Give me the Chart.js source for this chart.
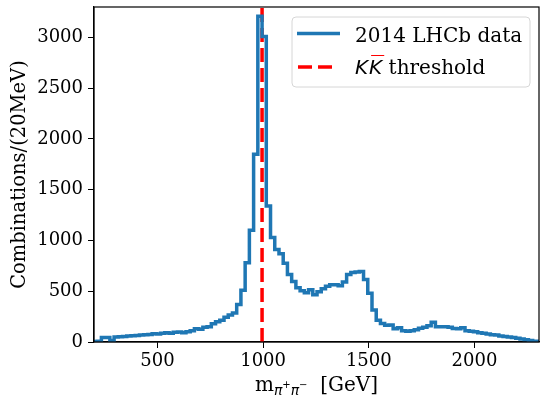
<!DOCTYPE html>
<html>
<head>
<meta charset="utf-8">
<script src="https://cdn.jsdelivr.net/npm/chart.js@4"></script>
<style>
  html, body { margin: 0; padding: 0; background: #fff; }
  canvas { display: block; }
</style>
</head>
<body>
<canvas id="chart" width="540" height="395"></canvas>
<script>
// histogram: 20 MeV bins, first bin starts at 195
var binWidth = 20;
var firstEdge = 195;
var counts = [
  5, 5, 8, 45, 45, 15, 50, 52, 55, 58,
  62, 65, 68, 72, 75, 82, 80, 85, 90, 85,
  95, 98, 92, 100, 110, 130, 125, 145, 150, 180,
  200, 215, 245, 265, 285, 370, 510, 780, 1100, 1850,
  3210, 3010, 1340, 1030, 910, 870, 775, 665, 595, 535,
  505, 485, 515, 465, 495, 525, 550, 565, 565, 555,
  590, 665, 685, 690, 695, 615, 480, 315, 215, 182,
  165, 168, 130, 140, 110, 105, 110, 120, 135, 145,
  160, 195, 150, 150, 150, 145, 132, 130, 140, 112,
  105, 100, 92, 85, 80, 72, 68, 60, 55, 50,
  45, 38, 30, 22, 15, 8
];
var threshold = 995;          // KK threshold
var xTicks = [500, 1000, 1500, 2000];
var yTicks = [0, 500, 1000, 1500, 2000, 2500, 3000];

var steps = counts.map(function (c, i) { return { x: firstEdge + i * binWidth, y: c }; });
steps.push({ x: firstEdge + counts.length * binWidth, y: counts[counts.length - 1] });

var serif = "'DejaVu Serif', serif";
var sans = "'DejaVu Sans', sans-serif";

var decorations = {
  id: "decorations",
  afterDraw: function (chart) {
    var ctx = chart.ctx, a = chart.chartArea;
    ctx.save();
    // frame
    ctx.strokeStyle = "#000";
    ctx.lineWidth = 1.2;
    ctx.strokeRect(a.left, a.top, a.right - a.left, a.bottom - a.top);

    // legend
    var lx = 292, ly = 17, lw = 238, lh = 70, r = 4;
    ctx.beginPath();
    ctx.moveTo(lx + r, ly);
    ctx.arcTo(lx + lw, ly, lx + lw, ly + lh, r);
    ctx.arcTo(lx + lw, ly + lh, lx, ly + lh, r);
    ctx.arcTo(lx, ly + lh, lx, ly, r);
    ctx.arcTo(lx, ly, lx + lw, ly, r);
    ctx.closePath();
    ctx.fillStyle = "rgba(255,255,255,0.8)";
    ctx.fill();
    ctx.strokeStyle = "#d6d6d6";
    ctx.lineWidth = 1;
    ctx.stroke();

    ctx.lineWidth = 3.5;
    ctx.strokeStyle = "#1f77b4";
    ctx.beginPath(); ctx.moveTo(297, 33.5); ctx.lineTo(340, 33.5); ctx.stroke();
    ctx.strokeStyle = "red";
    ctx.setLineDash([14, 6]);
    ctx.beginPath(); ctx.moveTo(298, 67); ctx.lineTo(332, 67); ctx.stroke();
    ctx.setLineDash([]);

    ctx.fillStyle = "#000";
    ctx.textBaseline = "alphabetic";
    ctx.textAlign = "left";
    ctx.font = "20px " + serif;
    ctx.fillText("2014 LHCb data", 355, 41.5);
    ctx.font = "italic 20px " + sans;
    ctx.fillText("K", 355, 74);
    var kw = ctx.measureText("K").width;
    ctx.fillText("K", 355 + kw + 1, 74);
    ctx.lineWidth = 1;
    ctx.beginPath(); ctx.moveTo(355 + kw + 3, 55.5); ctx.lineTo(355 + 2 * kw + 3, 55.5); ctx.stroke();
    ctx.font = "20px " + serif;
    ctx.fillText(" threshold", 355 + 2 * kw + 1, 74);

    // x axis title: m_{pi+ pi-} [GeV]
    var parts = [
      { t: "m", f: "20px " + serif, dy: 0 },
      { t: "\u03c0", f: "italic 14px " + sans, dy: 4 },
      { t: "+", f: "10px " + sans, dy: -3 },
      { t: "\u03c0", f: "italic 14px " + sans, dy: 4 },
      { t: "\u2212", f: "10px " + sans, dy: -3 },
      { t: "  [GeV]", f: "20px " + serif, dy: 0 }
    ];
    var total = 0;
    parts.forEach(function (p) { ctx.font = p.f; p.w = ctx.measureText(p.t).width; total += p.w; });
    var x = (a.left + a.right) / 2 - total / 2, base = 391;
    parts.forEach(function (p) { ctx.font = p.f; ctx.fillText(p.t, x, base + p.dy); x += p.w; });

    // y axis title
    ctx.translate(25, (a.top + a.bottom) / 2);
    ctx.rotate(-Math.PI / 2);
    ctx.textAlign = "center";
    ctx.font = "19.5px " + serif;
    ctx.fillText("Combinations/(20MeV)", 0, 0);
    ctx.restore();
  }
};

function plain(v) { return String(v); }

new Chart(document.getElementById("chart").getContext("2d"), {
  type: "line",
  data: {
    datasets: [
      {
        label: "2014 LHCb data",
        data: steps,
        stepped: "after",
        borderColor: "#1f77b4",
        borderWidth: 3.5,
        pointRadius: 0,
        fill: false
      },
      {
        label: "KK threshold",
        data: [{ x: threshold, y: 0 }, { x: threshold, y: 3300 }],
        borderColor: "red",
        borderWidth: 3.5,
        borderDash: [14, 6],
        pointRadius: 0,
        fill: false
      }
    ]
  },
  options: {
    responsive: false,
    animation: false,
    devicePixelRatio: 1,
    layout: { padding: { left: 0, right: 1, top: 7, bottom: 0 } },
    plugins: { legend: { display: false }, tooltip: { enabled: false } },
    scales: {
      x: {
        type: "linear",
        min: 200,
        max: 2305,
        afterBuildTicks: function (s) { s.ticks = xTicks.map(function (v) { return { value: v }; }); },
        afterFit: function (s) { s.height = 53; s.paddingLeft = 0; s.paddingRight = 0; },
        grid: { drawOnChartArea: false, tickLength: 6, color: "#000" },
        border: { color: "#000", width: 1.2 },
        ticks: { color: "#000", font: { family: serif, size: 18 }, padding: 3, maxRotation: 0, callback: plain }
      },
      y: {
        min: 0,
        max: 3300,
        afterBuildTicks: function (s) { s.ticks = yTicks.map(function (v) { return { value: v }; }); },
        afterFit: function (s) { s.width = 94; s.paddingTop = 0; s.paddingBottom = 0; },
        grid: { drawOnChartArea: false, tickLength: 6, color: "#000" },
        border: { color: "#000", width: 1.2 },
        ticks: { color: "#000", font: { family: serif, size: 18 }, padding: 5, callback: plain }
      }
    }
  },
  plugins: [decorations]
});
</script>
</body>
</html>
